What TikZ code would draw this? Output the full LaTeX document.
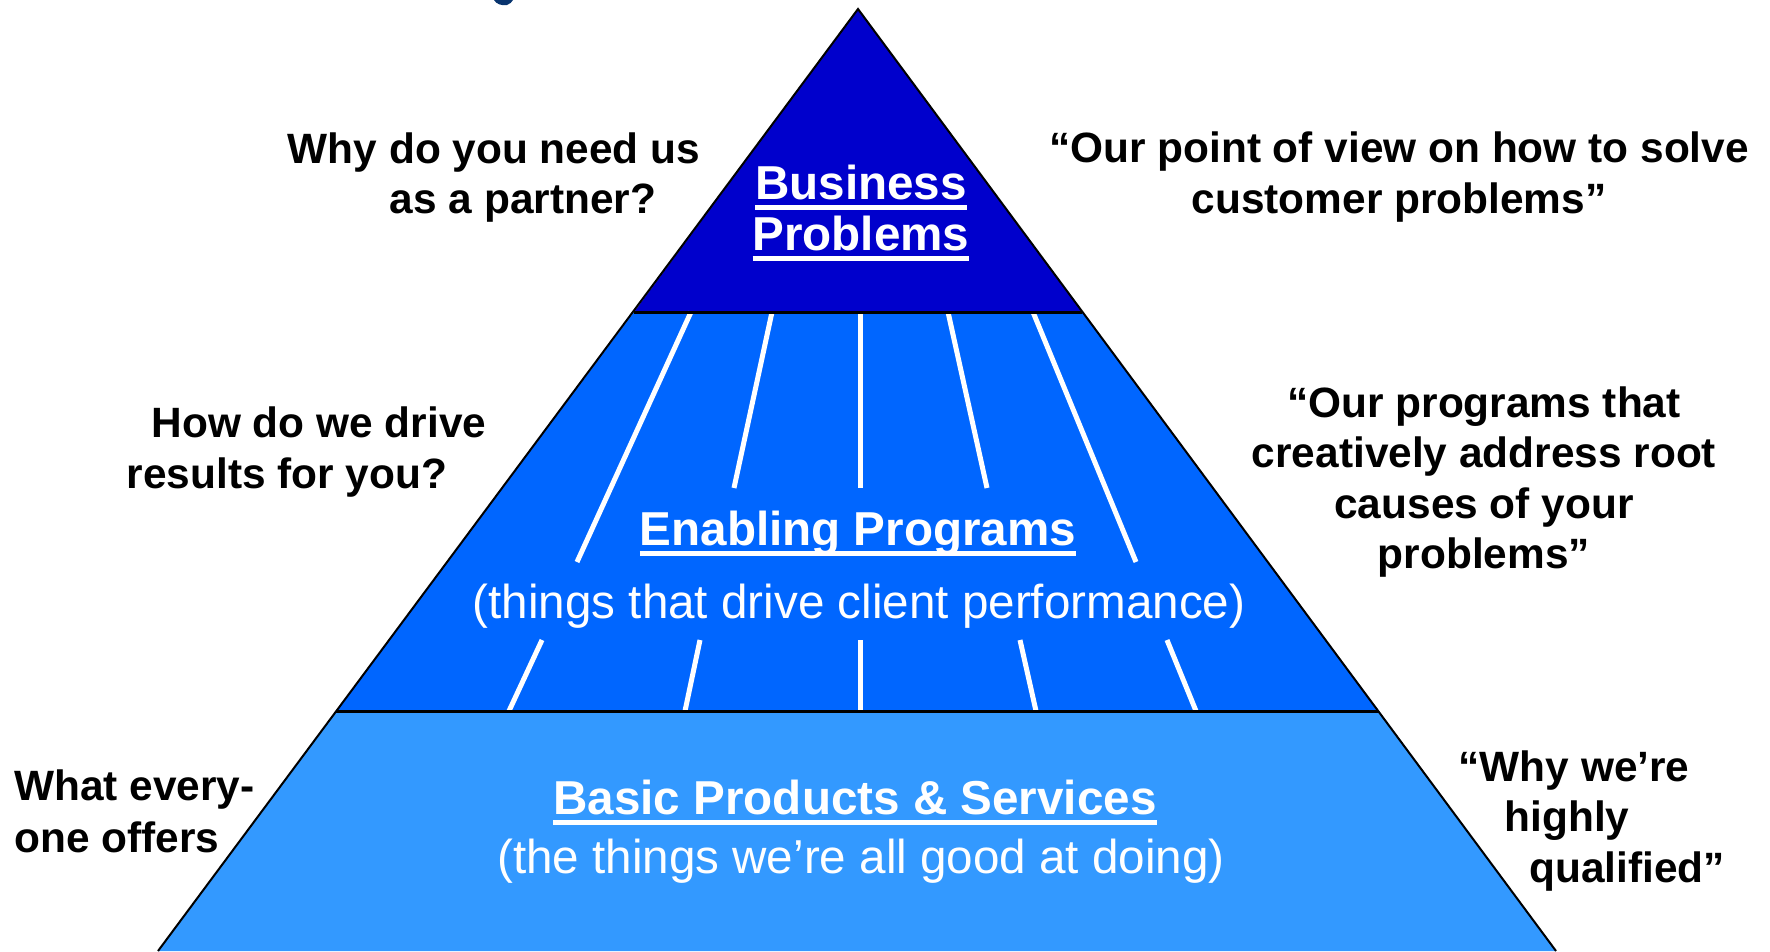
\documentclass[tikz,border=0pt]{standalone}
\usepackage{fontspec}
\setmainfont{Liberation Sans}
\definecolor{tiertop}{RGB}{0,0,204}
\definecolor{tiermid}{RGB}{0,102,255}
\definecolor{tierbase}{RGB}{51,153,255}
\definecolor{titlenavy}{RGB}{8,52,110}
% thick underline drawn as a rule below the baseline
\newcommand\ulword[1]{\setbox0\hbox{#1}\rlap{\rule[-10.5pt]{\wd0}{4.8pt}}\box0}
\begin{document}
\begin{tikzpicture}[x=1pt,y=-1pt,
  side/.style={anchor=base,inner sep=0pt,font=\fontsize{42.4}{50}\selectfont\bfseries,text=black},
  headtxt/.style={anchor=base,inner sep=0pt,font=\fontsize{47.6}{52}\selectfont\bfseries,text=white},
  subtxt/.style={anchor=base,inner sep=0pt,font=\fontsize{47.6}{52}\selectfont,text=white},
  tieredge/.style={draw=black,line width=2pt,line join=miter},
  lane/.style={draw=white,line width=5pt}]
\useasboundingbox (0,0) rectangle (1770,951);
\begin{scope}
\clip (0,0) rectangle (1770,951);
% pyramid corners
\coordinate (apex) at (858,9);
\coordinate (t1l) at (634,312);
\coordinate (t1r) at (1082,312);
\coordinate (t2l) at (336,711);
\coordinate (t2r) at (1379,711);
\coordinate (bl) at (158,951);
\coordinate (br) at (1556,951);
% tiers
\fill[tierbase] (t2l) -- (t2r) -- (br) -- (bl) -- cycle;
\fill[tiermid] (t1l) -- (t1r) -- (t2r) -- (t2l) -- cycle;
\fill[tiertop] (apex) -- (t1r) -- (t1l) -- cycle;
% lanes in the middle tier
\draw[lane] (691,312) -- (577,562);
\draw[lane] (772,312) -- (734,488);
\draw[lane] (860,312) -- (860,488);
\draw[lane] (948,312) -- (987,488);
\draw[lane] (1033,312) -- (1136,562);
\draw[lane] (542,640) -- (509,711);
\draw[lane] (700,640) -- (685,711);
\draw[lane] (860,640) -- (860,711);
\draw[lane] (1020,640) -- (1036,711);
\draw[lane] (1167,640) -- (1196,711);
% outline and tier boundaries
\draw[tieredge] (bl) -- (apex) -- (br);
\draw[draw=black,line width=3pt] (t1l) -- (t1r);
\draw[draw=black,line width=3pt] (t2l) -- (t2r);
% tail of the heading letter at the top edge
\fill[titlenavy] (494,0) .. controls (496,4) and (502,6) .. (507,5) .. controls (510,4) and (512,2) .. (513,0) -- cycle;
\end{scope}
% pyramid labels
\node[headtxt] (bp1) at (861,199) {\ulword{Business}};
\node[headtxt] (bp2) at (861,250) {\ulword{Problems}};
\node[headtxt] (ep) at (858,545) {\ulword{Enabling Programs}};
\node[subtxt] (eps) at (859,618) {(things that drive client performance)};
\node[headtxt] (bs) at (855,814) {\ulword{Basic Products \& Services}};
\node[subtxt] (bss) at (861,873) {(the things we’re all good at doing)};
% questions on the left
\node[side] (q1a) at (494,163) {Why do you need us};
\node[side] (q1b) at (523,213) {as a partner?};
\node[side] (q2a) at (319,437) {How do we drive};
\node[side] (q2b) at (287,488) {results for you?};
\node[side,anchor=base west] (q3a) at (14,800) {What every-};
\node[side,anchor=base west] (q3b) at (14,852) {one offers};
% answers on the right
\node[side] (a1a) at (1399,162) {“Our point of view on how to solve};
\node[side] (a1b) at (1399,213) {customer problems”};
\node[side] (a2a) at (1484,417) {“Our programs that};
\node[side] (a2b) at (1484,467) {creatively address root};
\node[side] (a2c) at (1484,518) {causes of your};
\node[side] (a2d) at (1484,568) {problems”};
\node[side] (a3a) at (1574,781) {“Why we’re};
\node[side] (a3b) at (1567,831) {highly};
\node[side] (a3c) at (1627,882) {qualified”};
\end{tikzpicture}
\end{document}
